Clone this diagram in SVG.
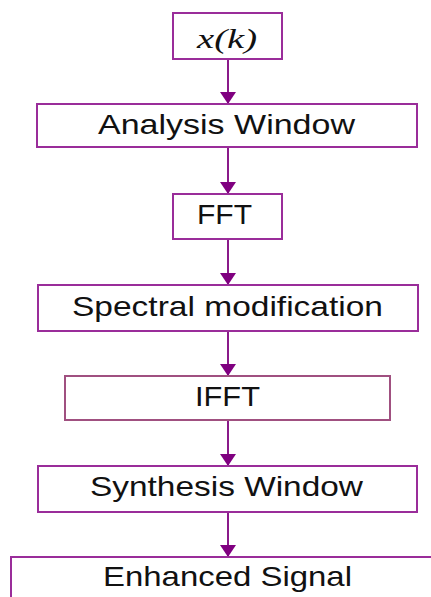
<svg xmlns="http://www.w3.org/2000/svg" width="431" height="597" viewBox="0 0 431 597">
<style>
.box{fill:#fff;stroke:#9a2d9a;stroke-width:2}
.lbl{font-family:"Liberation Sans",Arial,sans-serif;font-size:28px;fill:#111}
.con{stroke:#8a1a8a;stroke-width:2;fill:none;marker-end:url(#ah)}
</style>
<defs>
<marker id="ah" markerUnits="userSpaceOnUse" markerWidth="14" markerHeight="18" refX="12" refY="8" orient="auto">
<path d="M0,0 L12,8 L0,16 Z" fill="#800080"/>
</marker>
</defs>
<rect width="431" height="597" fill="#fff"/>
<g id="connectors">
<line class="con" x1="228" y1="59" x2="228" y2="104"/>
<line class="con" x1="228" y1="147" x2="228" y2="194"/>
<line class="con" x1="228" y1="239" x2="228" y2="285"/>
<line class="con" x1="228" y1="331" x2="228" y2="376"/>
<line class="con" x1="228" y1="420" x2="228" y2="466"/>
<line class="con" x1="228" y1="512" x2="228" y2="557"/>
</g>
<g id="xk">
<rect class="box" x="173" y="13" width="109" height="46"/>
<text x="197" y="48" font-family="Liberation Serif,serif" font-style="italic" font-size="28" fill="#111" textLength="60" lengthAdjust="spacingAndGlyphs">x(k)</text>
</g>
<g id="analysis">
<rect class="box" x="37" y="104" width="380" height="43"/>
<text class="lbl" x="98" y="134" textLength="257" lengthAdjust="spacingAndGlyphs">Analysis Window</text>
</g>
<g id="fft">
<rect class="box" x="173" y="194" width="109" height="45"/>
<text class="lbl" x="197" y="224" textLength="55" lengthAdjust="spacingAndGlyphs">FFT</text>
</g>
<g id="spectral">
<rect class="box" x="38" y="285" width="380" height="46"/>
<text class="lbl" x="72" y="316" textLength="311" lengthAdjust="spacingAndGlyphs">Spectral modification</text>
</g>
<g id="ifft">
<rect class="box" x="65" y="376" width="325" height="44" style="stroke:#a05080"/>
<text class="lbl" x="195" y="406" textLength="65" lengthAdjust="spacingAndGlyphs">IFFT</text>
</g>
<g id="synthesis">
<rect class="box" x="38" y="466" width="379" height="46"/>
<text class="lbl" x="90" y="496" textLength="273" lengthAdjust="spacingAndGlyphs">Synthesis Window</text>
</g>
<g id="enhanced">
<rect class="box" x="11" y="557" width="440" height="60"/>
<text class="lbl" x="103" y="586" textLength="249" lengthAdjust="spacingAndGlyphs">Enhanced Signal</text>
</g>
</svg>
